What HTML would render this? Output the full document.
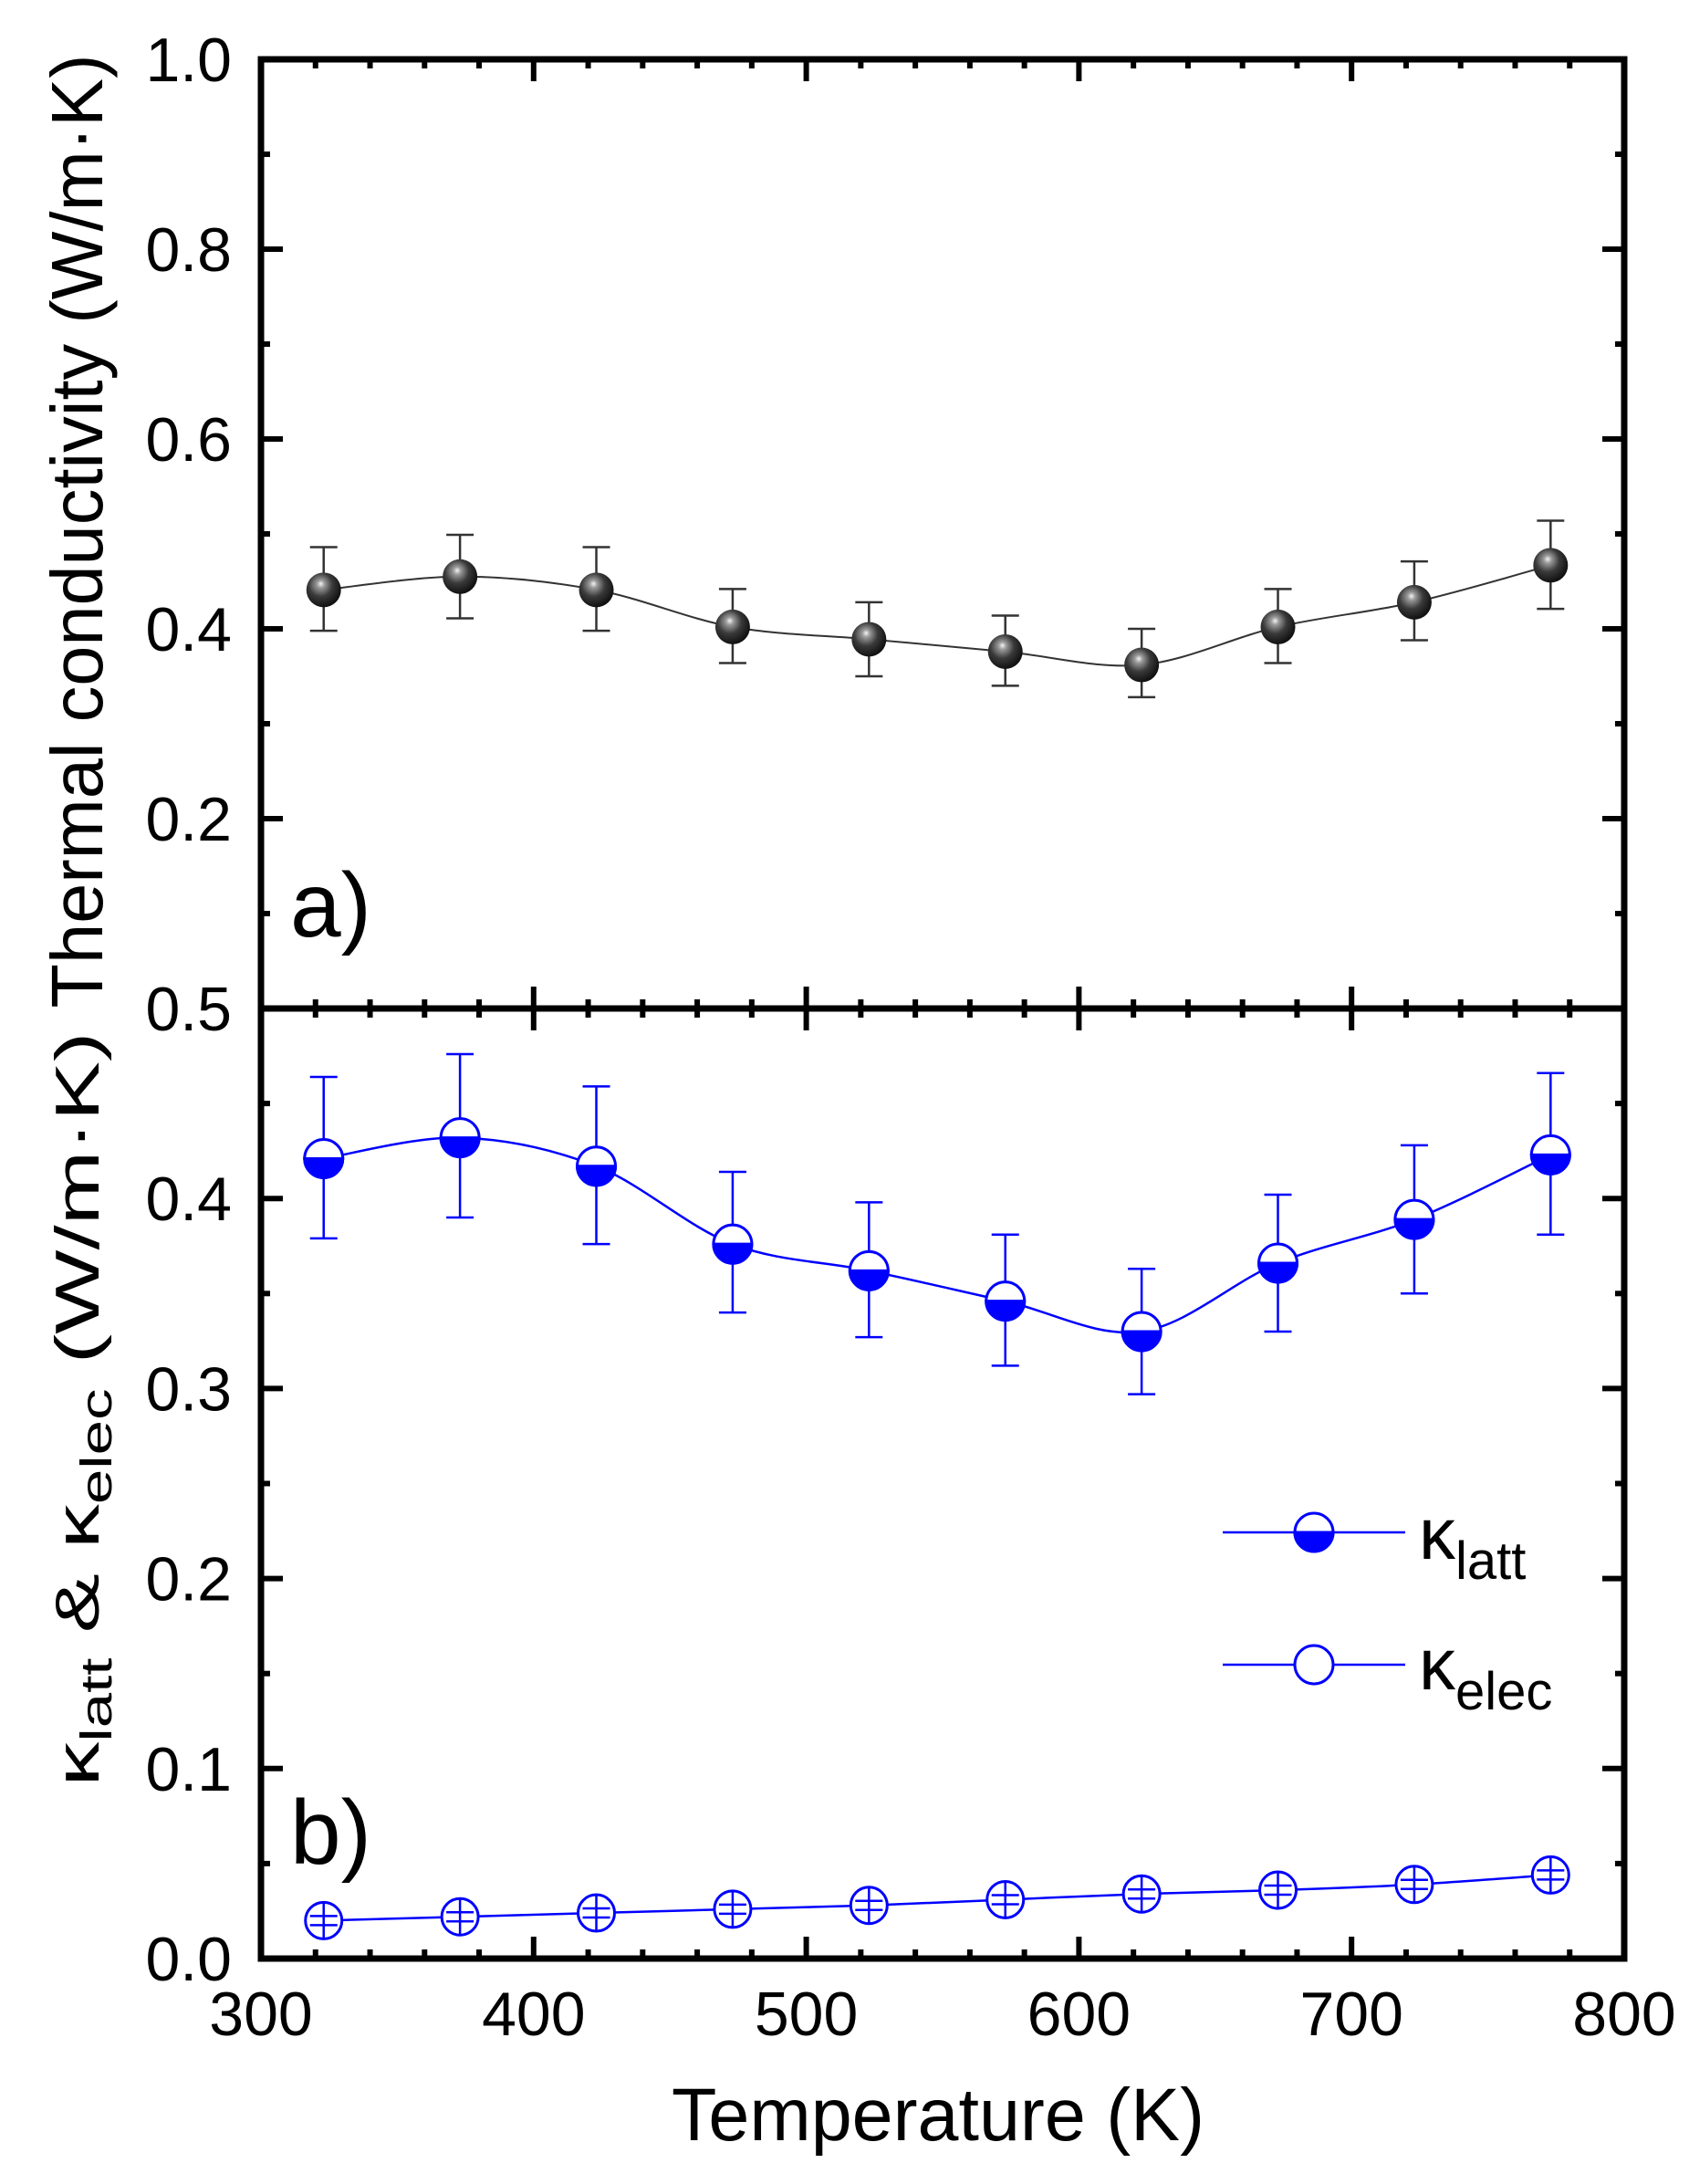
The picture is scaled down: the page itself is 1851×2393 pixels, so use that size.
<!DOCTYPE html>
<html><head><meta charset="utf-8"><style>
html,body{margin:0;padding:0;background:#fff;}
svg{display:block;}
text{font-family:"Liberation Sans",Arial,sans-serif;fill:#000;}
</style></head><body>
<svg id="s" xmlns="http://www.w3.org/2000/svg" width="1851" height="2393" viewBox="0 0 1851 2393">
<defs>
<radialGradient id="sph" cx="0.4" cy="0.38" r="0.62" fx="0.42" fy="0.32">
<stop offset="0" stop-color="#f4f4f4"/>
<stop offset="0.18" stop-color="#9a9a9a"/>
<stop offset="0.55" stop-color="#3a3a3a"/>
<stop offset="1" stop-color="#111"/>
</radialGradient>
</defs>
<g id="g"></g>
<text x="0" y="0" font-size="80" text-anchor="middle" textLength="1045" lengthAdjust="spacingAndGlyphs" transform="translate(112,582) rotate(-90)">Thermal conductivity (W/m·K)</text>
<text x="0" y="0" font-size="68" text-anchor="middle" textLength="827" lengthAdjust="spacingAndGlyphs" transform="translate(108,1544) rotate(-90)">κ<tspan font-size="48" dy="14">latt</tspan><tspan dy="-14"> &amp; κ</tspan><tspan font-size="48" dy="14">elec</tspan><tspan dy="-14"> (W/m·K)</tspan></text>
<text x="1028" y="2345" font-size="82" text-anchor="middle" textLength="584" lengthAdjust="spacingAndGlyphs">Temperature (K)</text>
<text x="318" y="1026" font-size="100">a)</text>
<text x="318" y="2042" font-size="100">b)</text>
<text x="1555" y="1708" font-size="80">κ<tspan font-size="58" dy="22">latt</tspan></text>
<text x="1555" y="1851" font-size="80">κ<tspan font-size="58" dy="22">elec</tspan></text>
</svg>
<script>
var L=286,R=1780,T=65,M=1105,B=2146;
var g=document.getElementById('g');var h='';
function X(t){return L+(t-300)*(R-L)/500;}
function Ya(v){return M-v*(M-T);}
function Yb(v){return B-v*(B-M)/0.5;}
function line(x1,y1,x2,y2,c,w){h+='<line x1="'+x1+'" y1="'+y1+'" x2="'+x2+'" y2="'+y2+'" stroke="'+c+'" stroke-width="'+w+'"/>';}
function txt(x,y,s,a){h+='<text x="'+x+'" y="'+y+'" font-size="68" text-anchor="'+a+'">'+s+'</text>';}
for(var t=300;t<=800;t+=20){var x=X(t);var maj=(t%100==0);var l=maj?24:10;
 line(x,B,x,B-l,'#000',6);line(x,T,x,T+l,'#000',6);line(x,M-l,x,M+l,'#000',6);}
for(var i=1;i<10;i++){var v=i*0.1;var y=Ya(v);var maj=(i%2==0);var l=maj?24:10;
 line(L,y,L+l,y,'#000',6);line(R,y,R-l,y,'#000',6);}
for(var i=1;i<10;i++){var v=i*0.05;var y=Yb(v);var maj=(i%2==0);var l=maj?24:10;
 line(L,y,L+l,y,'#000',6);line(R,y,R-l,y,'#000',6);}
['0.2','0.4','0.6','0.8','1.0'].forEach(function(s){txt(254,Ya(+s)+24,s,'end');});
txt(254,M+24,'0.5','end');
['0.0','0.1','0.2','0.3','0.4'].forEach(function(s){txt(254,Yb(+s)+24,s,'end');});
for(var t=300;t<=800;t+=100)txt(X(t),2230,''+t,'middle');
h+='<rect x="'+L+'" y="'+T+'" width="'+(R-L)+'" height="'+(B-T)+'" fill="none" stroke="#000" stroke-width="7"/>';
line(L,M,R,M,'#000',7);
var Ts=[323,373,423,473,523,573,623,673,723,773];
function spline(pts){var d='M'+pts[0][0]+','+pts[0][1];for(var i=0;i<pts.length-1;i++){var p0=pts[i-1]||pts[i],p1=pts[i],p2=pts[i+1],p3=pts[i+2]||pts[i+1];
 var c1=[p1[0]+(p2[0]-p0[0])/6,p1[1]+(p2[1]-p0[1])/6],c2=[p2[0]-(p3[0]-p1[0])/6,p2[1]-(p3[1]-p1[1])/6];
 d+=' C'+c1[0]+','+c1[1]+' '+c2[0]+','+c2[1]+' '+p2[0]+','+p2[1];}return d;}
var a=[0.441,0.455,0.441,0.402,0.389,0.376,0.362,0.402,0.428,0.467];
var aL=[0.398,0.411,0.398,0.364,0.350,0.340,0.328,0.364,0.388,0.421];
var aH=[0.486,0.499,0.486,0.442,0.428,0.414,0.400,0.442,0.471,0.514];
h+='<path d="'+spline(Ts.map(function(t,i){return[X(t),Ya(a[i])];}))+'" fill="none" stroke="#333" stroke-width="2"/>';
Ts.forEach(function(t,i){var x=X(t);line(x,Ya(aL[i]),x,Ya(aH[i]),'#333',2.5);line(x-15,Ya(aL[i]),x+15,Ya(aL[i]),'#333',2.5);line(x-15,Ya(aH[i]),x+15,Ya(aH[i]),'#333',2.5);
 h+='<circle cx="'+x+'" cy="'+Ya(a[i])+'" r="19" fill="url(#sph)"/>';});
var b=[0.421,0.432,0.417,0.376,0.362,0.346,0.330,0.366,0.389,0.423];
var bL=[0.379,0.390,0.376,0.340,0.327,0.312,0.297,0.330,0.350,0.381];
var bH=[0.464,0.476,0.459,0.414,0.398,0.381,0.363,0.402,0.428,0.466];
var C='#0000ff';
h+='<path d="'+spline(Ts.map(function(t,i){return[X(t),Yb(b[i])];}))+'" fill="none" stroke="'+C+'" stroke-width="2.5"/>';
function half(x,y,r){h+='<circle cx="'+x+'" cy="'+y+'" r="'+r+'" fill="#fff" stroke="'+C+'" stroke-width="3"/>';
 h+='<path d="M'+(x-r)+','+y+' A'+r+','+r+' 0 0 0 '+(x+r)+','+y+' Z" fill="'+C+'" stroke="'+C+'" stroke-width="3"/>';}
Ts.forEach(function(t,i){var x=X(t);line(x,Yb(bL[i]),x,Yb(bH[i]),C,2.5);line(x-15,Yb(bL[i]),x+15,Yb(bL[i]),C,2.5);line(x-15,Yb(bH[i]),x+15,Yb(bH[i]),C,2.5);half(x,Yb(b[i]),21);});
var e=[0.020,0.022,0.024,0.026,0.028,0.031,0.034,0.036,0.039,0.044];
h+='<path d="'+spline(Ts.map(function(t,i){return[X(t),Yb(e[i])];}))+'" fill="none" stroke="'+C+'" stroke-width="2.5"/>';
Ts.forEach(function(t,i){var x=X(t),y=Yb(e[i]);h+='<circle cx="'+x+'" cy="'+y+'" r="20" fill="#fff" stroke="'+C+'" stroke-width="3"/>';
 line(x,y-19,x,y+19,C,2.5);line(x-15,y-5,x+15,y-5,C,2.5);line(x-15,y+5,x+15,y+5,C,2.5);});
line(1340,1679,1540,1679,C,2.5);half(1440,1679,21);
line(1340,1824,1540,1824,C,2.5);h+='<circle cx="1440" cy="1824" r="21" fill="#fff" stroke="'+C+'" stroke-width="3"/>';
g.innerHTML=h;
</script>
</body></html>
